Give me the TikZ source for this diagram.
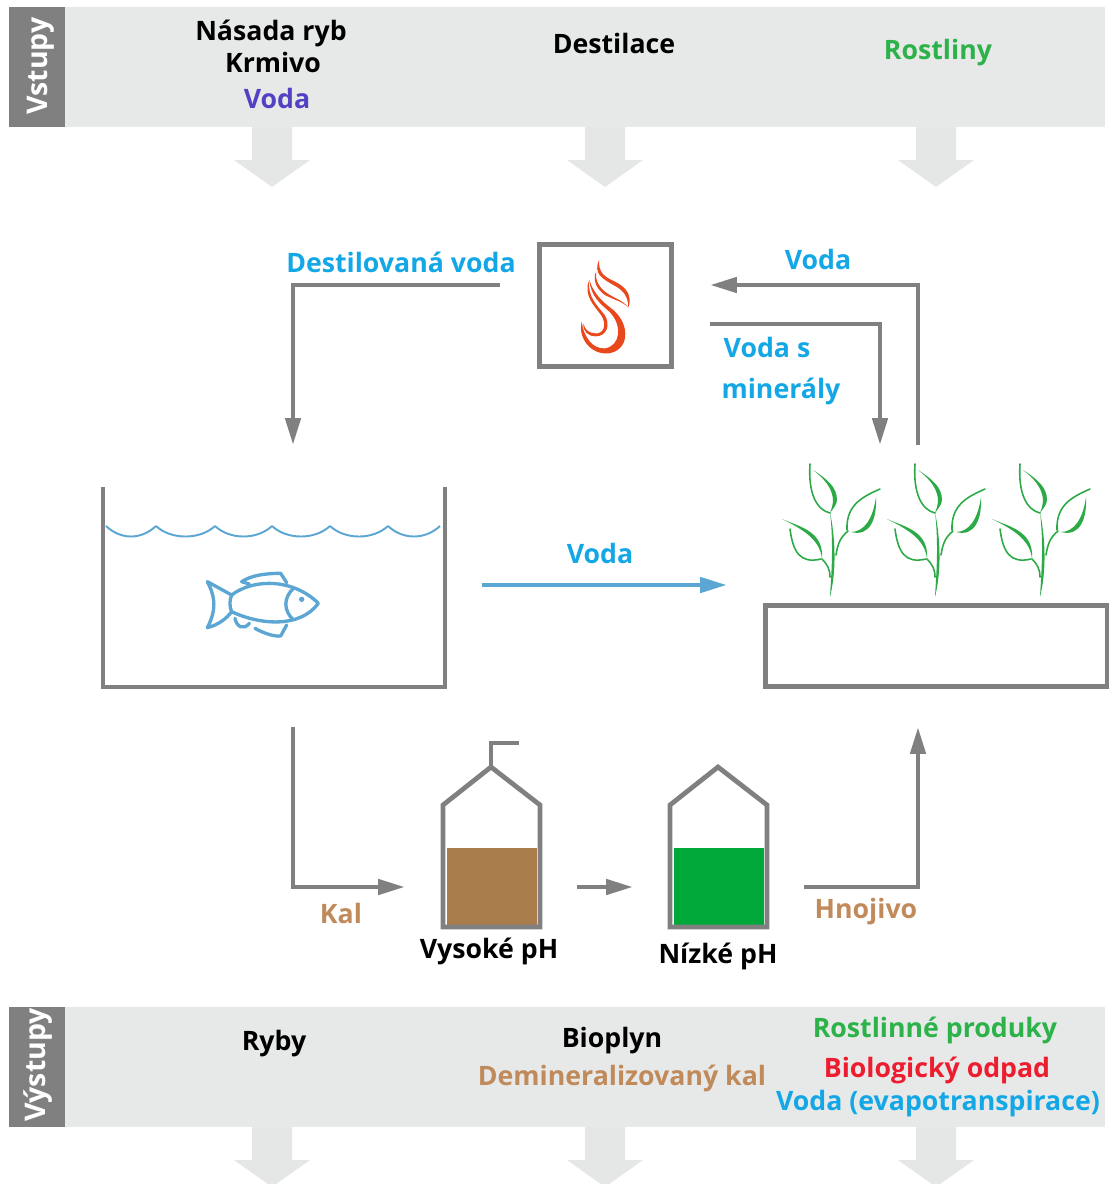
\documentclass[tikz,border=0pt]{standalone}
\usepackage{fontspec}
\setmainfont{Open Sans}
\usetikzlibrary{arrows.meta}

\definecolor{bandgray}{HTML}{E7E9E9}
\definecolor{linegray}{HTML}{808080}
\definecolor{arrowgray}{HTML}{E5E6E6}
\definecolor{waterblue}{HTML}{14A7E6}
\definecolor{fishblue}{HTML}{5BA6D3}
\definecolor{inviolet}{HTML}{5142C4}
\definecolor{plantgreen}{HTML}{2DB24A}
\definecolor{leafgreen}{HTML}{2BAA46}
\definecolor{soilbrown}{HTML}{A97C4B}
\definecolor{kalbrown}{HTML}{C08A5B}
\definecolor{liquidgreen}{HTML}{00A83A}
\definecolor{wastered}{HTML}{ED1C2E}
\definecolor{flamered}{HTML}{E8481C}

\tikzset{
	lbl/.style = {font=\fontsize{15.2}{18}\selectfont\bfseries, inner sep=0, text height=13pt, text depth=2.2pt},
	sidelbl/.style = {font=\fontsize{16.2}{19}\selectfont\bfseries, inner sep=0, text height=13pt, text depth=2.2pt, white, rotate=90},
	wall/.style = {draw=linegray, line width=4.8*0.5669pt, line join=miter},
	flow/.style = {wall, -{Triangle[length=27*0.5669pt, width=15*0.5669pt]}},
	bluefish/.style = {draw=fishblue, line width=1.9pt, line cap=round, line join=round},
	thinleaf/.style = {draw=leafgreen, line width=0.9pt, line cap=round},
	pics/plant/.style = {code = {
		\fill[leafgreen] (0, 0) .. controls (5, -20) and (7, -50) .. (0, -85) .. controls (4, -50) and (1, -20) .. (0, 0);
		\draw[thinleaf] (-20, -133) .. controls (-22, -103) and (-13, -87) .. (0, -84);
		\fill[leafgreen] (-17, -127) .. controls (-3, -118) and (7, -110) .. (7, -97) .. controls (7, -93) and (3, -88) .. (0, -84) .. controls (3, -92) and (4, -97) .. (2, -103) .. controls (-1, -113) and (-8, -120) .. (-17, -127);
		\draw[thinleaf] (50, -108) .. controls (32, -100) and (16, -92) .. (17, -67);
		\fill[leafgreen] (46, -100) .. controls (47, -78) and (40, -60) .. (21, -65) .. controls (34, -65) and (43, -78) .. (46, -100);
		\draw[thinleaf] (18, -66) .. controls (11, -60) and (8, -55) .. (6, -42);
		\fill[leafgreen] (-48, -78) .. controls (-30, -70) and (-6, -66) .. (-8, -38) .. controls (-10, -58) and (-28, -68) .. (-48, -78);
		\draw[thinleaf] (-40, -68) .. controls (-37, -45) and (-30, -33) .. (-9, -38);
		\draw[thinleaf] (-8, -38) .. controls (-3, -33) and (0, -28) .. (0, -20);
	}},
	pics/bignarrow/.style = {code = {
		\fill[arrowgray] (-20, 0) -- (20, 0) -- (20, 33) -- (38, 33) -- (0, 60) -- (-38, 33) -- (-20, 33) -- cycle;
	}}
}

\begin{document}
\begin{tikzpicture}[x=0.02cm, y=-0.02cm]
	\useasboundingbox (0, 0) rectangle (1109, 1184);
	% bands
	\fill[bandgray] (9, 7) rectangle (1105, 127);
	\fill[linegray] (9, 7) rectangle (65, 127);
	\fill[bandgray] (9, 1007) rectangle (1105, 1127);
	\fill[linegray] (9, 1007) rectangle (65, 1127);
	\foreach \xpos in {272, 605, 936} {
		\pic at (\xpos, 127) {bignarrow};
		\begin{scope}
			\clip (0, 1120) rectangle (1109, 1184);
			\pic at (\xpos, 1127) {bignarrow};
		\end{scope}
	}
	\node[sidelbl] (vstupy) at (38, 66) {Vstupy};
	\node[sidelbl] (vystupy) at (36, 1065) {Výstupy};
	% inputs
	\node[lbl] (nasada) at (271, 31) {Násada ryb};
	\node[lbl] (krmivo) at (273, 63) {Krmivo};
	\node[lbl, inviolet] (invoda) at (277, 99) {Voda};
	\node[lbl] (destilace) at (614, 44) {Destilace};
	\node[lbl, plantgreen] (rostliny) at (938, 50) {Rostliny};
	% flame
	\node[wall, draw, minimum width=133*0.5669pt, minimum height=123*0.5669pt, inner sep=0] (flamebox) at (605.5, 305.5) {};
	\begin{scope}[shift={(530, 235)}, x=0.00667cm, y=-0.00667cm]
		\fill[flamered] (155, 260) .. controls (143, 312) and (185, 360) .. (235, 355) .. controls (298, 347) and (302, 270) .. (250, 225) .. controls (225, 205) and (195, 185) .. (178, 135) .. controls (183, 185) and (212, 207) .. (238, 230) .. controls (278, 270) and (272, 333) .. (225, 340) .. controls (190, 343) and (162, 310) .. (155, 260);
		\fill[flamered] (178, 135) .. controls (158, 180) and (195, 215) .. (213, 240) .. controls (233, 270) and (220, 298) .. (195, 295) .. controls (175, 293) and (165, 285) .. (160, 265) .. controls (158, 290) and (175, 304) .. (197, 304) .. controls (230, 304) and (243, 270) .. (224, 240) .. controls (205, 215) and (170, 185) .. (178, 135);
		\fill[flamered] (207, 75) .. controls (190, 115) and (215, 130) .. (250, 150) .. controls (280, 165) and (295, 185) .. (295, 218) .. controls (307, 185) and (292, 158) .. (255, 140) .. controls (225, 126) and (205, 115) .. (207, 75);
		\fill[flamered] (295, 218) .. controls (280, 195) and (250, 190) .. (225, 170) .. controls (205, 155) and (195, 130) .. (198, 110) .. controls (186, 140) and (205, 167) .. (225, 180) .. controls (250, 194) and (280, 200) .. (295, 218);
	\end{scope}
	% fish tank
	\coordinate (tankl) at (103, 487);
	\coordinate (tankbl) at (103, 687);
	\coordinate (tankbr) at (445, 687);
	\coordinate (tankr) at (445, 487);
	\draw[wall] (tankl) -- (tankbl) -- (tankbr) -- (tankr);
	\foreach \xa/\xb in {106/156, 156/215, 215/272, 272/330, 330/388, 388/440}
		\draw[draw=fishblue, line width=1.1pt] (\xa, 526) .. controls ({\xa + 15}, 540) and ({\xb - 15}, 540) .. (\xb, 526);
	\begin{scope}[shift={(190, 560)}, x=0.00667cm, y=-0.00667cm]
		\draw[bluefish] (125, 105) .. controls (190, 55) and (310, 55) .. (385, 130) .. controls (330, 205) and (210, 195) .. (125, 155);
		\draw[bluefish] (125, 105) -- (52, 65) .. controls (70, 100) and (85, 140) .. (52, 203) .. controls (85, 195) and (110, 175) .. (125, 155);
		\draw[bluefish] (125, 105) .. controls (118, 120) and (118, 140) .. (125, 155);
		\draw[bluefish] (310, 85) .. controls (280, 115) and (280, 150) .. (310, 180);
		\fill[fishblue] (335, 118) circle [radius = 8];
		\draw[bluefish] (155, 65) .. controls (185, 45) and (230, 40) .. (272, 40) -- (290, 68);
		\draw[bluefish] (155, 65) -- (178, 72);
		\draw[bluefish] (135, 175) .. controls (140, 200) and (160, 212) .. (178, 190);
		\draw[bluefish] (195, 205) .. controls (225, 222) and (255, 230) .. (272, 228) -- (290, 195);
	\end{scope}
	% plants
	\foreach \xpos in {830, 935, 1040}
		\pic at (\xpos, 597) {plant};
	\node[wall, draw, minimum width=343*0.5669pt, minimum height=82*0.5669pt, inner sep=0] (tray) at (936.5, 646) {};
	% digesters
	\fill[soilbrown] (447, 848) rectangle (537, 925);
	\draw[wall] (443, 927) -- (443, 805) -- (491, 767) -- (540, 805) -- (540, 927) -- cycle;
	\draw[wall] (491, 767) -- (491, 743) -- (519, 743);
	\fill[liquidgreen] (674, 848) rectangle (764, 925);
	\draw[wall] (670, 927) -- (670, 805) -- (718, 767) -- (767, 805) -- (767, 927) -- cycle;
	% connector ends
	\coordinate (dvstart) at (500, 285);
	\coordinate (dvcorner) at (293, 285);
	\coordinate (dvend) at (293, 445);
	\coordinate (vstart) at (918, 445);
	\coordinate (vcorner) at (918, 285);
	\coordinate (vend) at (710, 285);
	\coordinate (mstart) at (710, 324);
	\coordinate (mcorner) at (880, 324);
	\coordinate (mend) at (880, 445);
	\coordinate (bstart) at (482, 585);
	\coordinate (bend) at (727, 585);
	\coordinate (kstart) at (293, 727);
	\coordinate (kcorner) at (293, 887);
	\coordinate (kend) at (405, 887);
	\coordinate (tstart) at (577, 887);
	\coordinate (tend) at (633, 887);
	\coordinate (hstart) at (804, 887);
	\coordinate (hcorner) at (918, 887);
	\coordinate (hend) at (918, 727);
	\draw[flow] (dvstart) -- (dvcorner) -- (dvend);
	\draw[flow] (vstart) -- (vcorner) -- (vend);
	\draw[flow] (mstart) -- (mcorner) -- (mend);
	\draw[flow, draw=fishblue, fill=fishblue] (bstart) -- (bend);
	\draw[flow] (kstart) -- (kcorner) -- (kend);
	\draw[flow] (tstart) -- (tend);
	\draw[flow] (hstart) -- (hcorner) -- (hend);
	% middle labels
	\node[lbl, waterblue] (dvoda) at (401, 263) {Destilovaná voda};
	\node[lbl, waterblue] (voda1) at (818, 260) {Voda};
	\node[lbl, waterblue] (vodas) at (767, 348) {Voda s};
	\node[lbl, waterblue] (mineraly) at (781, 389) {minerály};
	\node[lbl, waterblue] (voda2) at (600, 554) {Voda};
	\node[lbl, kalbrown] (kal) at (341, 914) {Kal};
	\node[lbl] (vysoke) at (489, 949) {Vysoké pH};
	\node[lbl] (nizke) at (718, 954) {Nízké pH};
	\node[lbl, kalbrown] (hnojivo) at (866, 909) {Hnojivo};
	% outputs
	\node[lbl] (ryby) at (274, 1041) {Ryby};
	\node[lbl] (bioplyn) at (612, 1038) {Bioplyn};
	\node[lbl, kalbrown] (demin) at (622, 1076) {Demineralizovaný kal};
	\node[lbl, plantgreen] (produky) at (935, 1028) {Rostlinné produky};
	\node[lbl, wastered] (odpad) at (937, 1068) {Biologický odpad};
	\node[lbl, waterblue] (evapo) at (938, 1101) {Voda (evapotranspirace)};
\end{tikzpicture}
\end{document}
